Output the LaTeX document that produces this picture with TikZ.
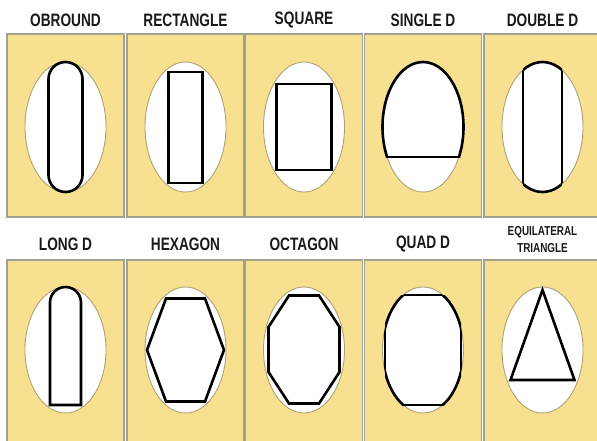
\documentclass[tikz,border=0pt]{standalone}
\usepackage{fontspec}
\newfontfamily\lblfont[FakeStretch=0.76]{Liberation Sans}
\usetikzlibrary{calc}
\definecolor{panelyellow}{RGB}{247,224,143}
\definecolor{panelgrey}{RGB}{160,160,148}
\definecolor{rimtan}{RGB}{175,160,115}
\tikzset{
  panel/.style={fill=panelyellow, draw=panelgrey, line width=1.2pt},
  hole/.style={fill=white, draw=rimtan, line width=0.9pt},
  bore/.style={draw=black, line width=2.6pt},
  partname/.style={font=\lblfont\bfseries\fontsize{18}{18}\selectfont, text=black!90, align=center},
}
% ellipse cut by flats: centre, radii, flat region
\newcommand{\dshape}[3]{%
  \begin{scope}\clip #3; \draw[bore] #1 ellipse [#2];\end{scope}
  \begin{scope}\clip #1 ellipse [#2]; \draw[bore] #3;\end{scope}}

\begin{document}
\begin{tikzpicture}[x=1pt, y=-1pt]
    \useasboundingbox (0,0) rectangle (597,440);

    % Panels and holes
    \foreach \cx in {65.5,185.5,304,423,542.5} {
        \draw[panel] (\cx-58.5,34) rectangle (\cx+58.5,217);
        \draw[panel] (\cx-58.5,260) rectangle (\cx+58.5,445);
        \draw[hole] (\cx,127) ellipse [x radius=40.5, y radius=65];
        \draw[hole] (\cx,350) ellipse [x radius=40.5, y radius=63];
    }

    % Names
    \node[partname] (obround) at (65.5,20) {OBROUND};
    \node[partname] (rectangle) at (185.5,20) {RECTANGLE};
    \node[partname] (square) at (304,20) {SQUARE};
    \node[partname] (singled) at (423,20) {SINGLE D};
    \node[partname] (doubled) at (542.5,20) {DOUBLE D};
    \node[partname] (longd) at (65.5,244) {LONG D};
    \node[partname] (hexagon) at (185.5,244) {HEXAGON};
    \node[partname] (octagon) at (304,244) {OCTAGON};
    \node[partname] (quadd) at (423,244) {QUAD D};
    \node[partname, font=\lblfont\bfseries\fontsize{13}{17}\selectfont] (triangle) at (542.5,240) {EQUILATERAL\\TRIANGLE};

    % Top row bores
    \draw[bore, rounded corners=17pt] (48.5,62) rectangle (82.5,192);
    \draw[bore] (168.5,72) rectangle (202.5,183);
    \draw[bore] (276.5,84) rectangle (331.5,170);
    \dshape{(423,127)}{x radius=40.5, y radius=65}{(373,50) rectangle (473,157)}
    \dshape{(542.5,127)}{x radius=40.5, y radius=65}{(523,50) rectangle (562,205)}

    % Bottom row bores
    \draw[bore] (50,405) [rounded corners=15.5pt] -- (50,287) -- (81,287) [sharp corners] -- (81,405) -- cycle;
    \draw[bore] (147,350) -- (166,298.5) -- (205,298.5) -- (224,350) -- (205,401.5) -- (166,401.5) -- cycle;
    \draw[bore] (289,295.5) -- (319,295.5) -- (339.5,327) -- (339.5,372) -- (319,403.5) -- (289,403.5) -- (268.5,372) -- (268.5,327) -- cycle;
    \dshape{(423,350)}{x radius=40.5, y radius=63}{(385,295) rectangle (461,405)}
    \draw[bore] (542.5,290) -- (574.5,380) -- (510.5,380) -- cycle;
\end{tikzpicture}
\end{document}
